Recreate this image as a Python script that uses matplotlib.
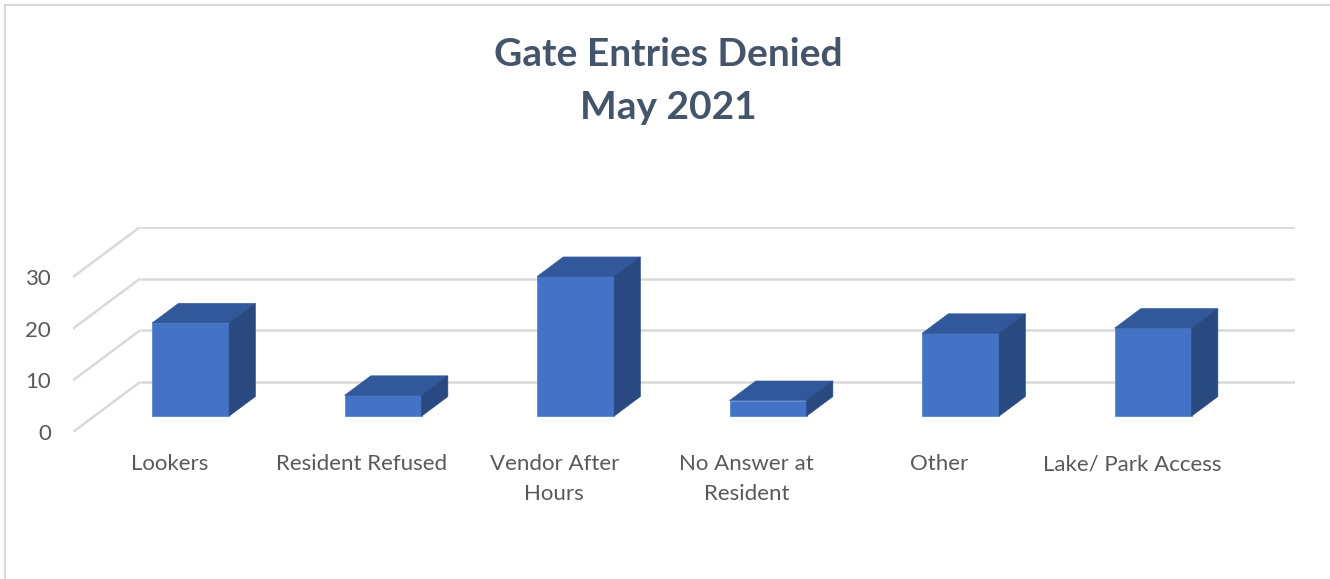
import matplotlib
matplotlib.use("Agg")
import matplotlib.pyplot as plt
from matplotlib.patches import Polygon
from matplotlib.lines import Line2D

categories = ["Lookers", "Resident Refused", "Vendor After\nHours",
              "No Answer at\nResident", "Other", "Lake/ Park Access"]
values = [18, 4, 27, 3, 16, 17]
yticks = [0, 10, 20, 30]

plt.rcParams['font.family'] = ['Lato', 'DejaVu Sans']

W, H = 1330, 579
fig = plt.figure(figsize=(W / 100, H / 100), dpi=100)

# oblique depth offsets (data units)
DX = 0.348
DY = 9.67
D0, D1 = 0.32, 0.71
BW = 0.4
ymax = 30

ax_l, ax_r, ax_b, ax_t = 73, 1295, 432, 227
ax = fig.add_axes([ax_l / W, (H - ax_b) / H, (ax_r - ax_l) / W, (ax_b - ax_t) / H])
ax.set_xlim(-0.5, len(categories) - 0.5 + DX)
ax.set_ylim(0, ymax + DY)
for s in ax.spines.values():
    s.set_visible(False)

grid_c = '#D9D9D9'
for v in yticks:
    ax.add_line(Line2D([-0.5 + DX, len(categories) - 0.5 + DX], [v + DY, v + DY],
                       color=grid_c, lw=1.8, zorder=1, solid_capstyle='butt'))
    ax.add_line(Line2D([-0.5, -0.5 + DX], [v, v + DY], color=grid_c, lw=1.8,
                       zorder=1, solid_capstyle='butt'))

front_c, top_c, side_c = '#4472C4', '#31589A', '#294A80'
for i, v in enumerate(values):
    x0 = i - BW / 2 + D0 * DX
    x1 = i + BW / 2 + D0 * DX
    yb = D0 * DY
    yt = v + D0 * DY
    ddx = (D1 - D0) * DX
    ddy = (D1 - D0) * DY
    ax.add_patch(Polygon([(x0, yb), (x1, yb), (x1, yt), (x0, yt)], closed=True,
                         fc=front_c, ec='#5A86D0', lw=0.6, zorder=3))
    ax.add_patch(Polygon([(x0, yt), (x1, yt), (x1 + ddx, yt + ddy), (x0 + ddx, yt + ddy)],
                         closed=True, fc=top_c, ec=top_c, lw=0.5, zorder=3))
    ax.add_patch(Polygon([(x1, yb), (x1 + ddx, yb + ddy), (x1 + ddx, yt + ddy), (x1, yt)],
                         closed=True, fc=side_c, ec=side_c, lw=0.5, zorder=3))

lab_c = '#595959'
ax.set_yticks(yticks)
ax.set_yticklabels([str(t) for t in yticks])
ax.set_xticks(range(len(categories)))
ax.set_xticklabels(categories, linespacing=1.6)
ax.tick_params(axis='y', length=0, pad=16, labelsize=16, labelcolor=lab_c)
ax.tick_params(axis='x', length=0, pad=16, labelsize=16, labelcolor=lab_c)

fig.text(668 / W, 1 - 37 / H, "Gate Entries Denied\nMay 2021", ha='center', va='top',
         fontsize=28, fontweight='bold', color='#44546A', linespacing=1.62)

# chart border (top and left visible)
fig.add_artist(Line2D([5 / W, 5 / W], [0, 1 - 5 / H], transform=fig.transFigure,
                      color='#D9D9D9', lw=1.5))
fig.add_artist(Line2D([5 / W, 1], [1 - 5 / H, 1 - 5 / H], transform=fig.transFigure,
                      color='#D9D9D9', lw=1.5))

fig.savefig('out.png', dpi=100)
